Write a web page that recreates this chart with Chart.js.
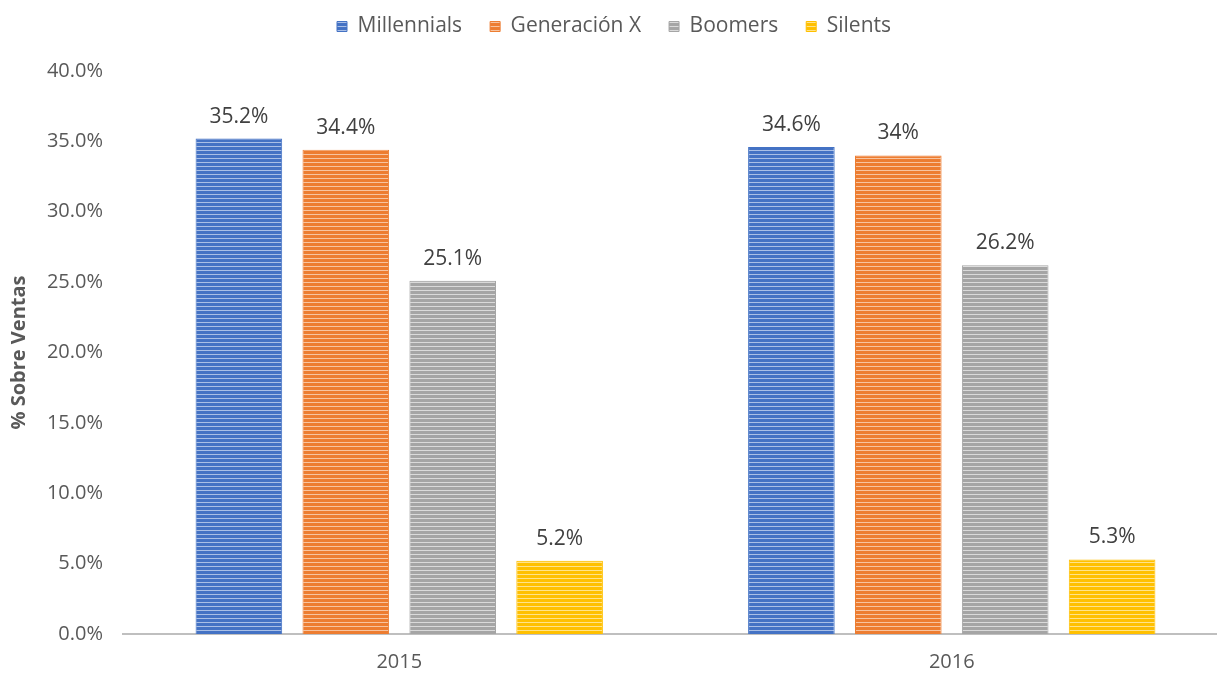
<!DOCTYPE html>
<html>
<head>
<meta charset="utf-8">
<script src="https://cdn.jsdelivr.net/npm/chart.js@4/dist/chart.umd.min.js"></script>
<style>
  html, body { margin: 0; padding: 0; background: #fff; overflow: hidden; }
  #wrap { width: 1237px; height: 677px; }
</style>
</head>
<body>
<div id="wrap"><canvas id="chart"></canvas></div>
<script>
"use strict";

const years = ["2015", "2016"];
const seriesNames = ["Millennials", "Generación X", "Boomers", "Silents"];
const millennials = [35.2, 34.6];
const generacionX = [34.4, 34.0];
const boomers = [25.1, 26.2];
const silents = [5.2, 5.3];
const valueLabels = [
  ["35.2%", "34.6%"],
  ["34.4%", "34%"],
  ["25.1%", "26.2%"],
  ["5.2%", "5.3%"],
];
const yTicks = [0, 5, 10, 15, 20, 25, 30, 35, 40];

const textFont = "'Open Sans', 'Noto Sans', sans-serif";

// horizontal stripes like the office-style fill
function stripes(base, light) {
  const c = document.createElement("canvas");
  c.width = 4;
  c.height = 4;
  const ctx = c.getContext("2d");
  ctx.fillStyle = base;
  ctx.fillRect(0, 0, 4, 4);
  ctx.fillStyle = light;
  ctx.fillRect(0, 2, 4, 1);
  return ctx.createPattern(c, "repeat");
}

const palette = [
  { base: "#4472C4", light: "#A9BFE6" },
  { base: "#ED7D31", light: "#F7C4A0" },
  { base: "#A5A5A5", light: "#DADADA" },
  { base: "#FFC000", light: "#FFE38A" },
];

const allValues = [millennials, generacionX, boomers, silents];

const valueLabelPlugin = {
  id: "valueLabels",
  afterDatasetsDraw(chart) {
    const ctx = chart.ctx;
    ctx.save();
    ctx.font = "21px " + textFont;
    ctx.fillStyle = "#404040";
    ctx.textAlign = "center";
    ctx.textBaseline = "middle";
    chart.data.datasets.forEach((ds, i) => {
      chart.getDatasetMeta(i).data.forEach((bar, j) => {
        ctx.fillText(valueLabels[i][j], bar.x, bar.y - 22);
      });
    });
    ctx.restore();
  },
};

// room between legend and plot, legend row drawn a bit higher
const legendSpacer = {
  id: "legendSpacer",
  beforeInit(chart) {
    const legend = chart.legend;
    const fit = legend.fit;
    legend.fit = function () {
      fit.call(this);
      this.height += 12;
    };
    const draw = legend.draw;
    legend.draw = function (area) {
      const ctx = this.ctx;
      ctx.save();
      ctx.translate(0, -12);
      draw.call(this, area);
      ctx.restore();
    };
  },
};

const chartData = {
  labels: years,
  datasets: seriesNames.map((name, i) => ({
    label: name,
    data: allValues[i],
    backgroundColor: stripes(palette[i].base, palette[i].light),
    borderColor: palette[i].base,
    borderWidth: 1,
    categoryPercentage: 0.774,
    barPercentage: 0.81,
  })),
};

new Chart(document.getElementById("chart"), {
  type: "bar",
  data: chartData,
  plugins: [valueLabelPlugin, legendSpacer],
  options: {
    responsive: true,
    maintainAspectRatio: false,
    animation: false,
    layout: { padding: { top: 0, right: 9, bottom: 0, left: 0 } },
    plugins: {
      tooltip: { enabled: false },
      legend: {
        position: "top",
        labels: {
          boxWidth: 10,
          boxHeight: 10,
          padding: 28,
          color: "#595959",
          font: { family: textFont, size: 21 },
        },
      },
    },
    scales: {
      x: {
        afterFit(scale) {
          scale.height = 43;
        },
        grid: { display: false, drawTicks: false },
        border: { color: "#BFBFBF", width: 2 },
        ticks: {
          color: "#595959",
          padding: 16,
          font: { family: textFont, size: 20 },
        },
      },
      y: {
        min: 0,
        max: 40,
        afterBuildTicks(scale) {
          scale.ticks = yTicks.map(v => ({ value: v }));
        },
        afterFit(scale) {
          scale.width = 123;
        },
        grid: { display: false, drawTicks: false },
        border: { display: false },
        ticks: {
          color: "#595959",
          padding: 20,
          font: { family: textFont, size: 20 },
          callback: v => v.toFixed(1) + "%",
        },
        title: {
          display: true,
          text: "% Sobre Ventas",
          color: "#595959",
          padding: { top: 7, bottom: 0 },
          font: { family: textFont, size: 20, weight: "bold" },
        },
      },
    },
  },
});
</script>
</body>
</html>
